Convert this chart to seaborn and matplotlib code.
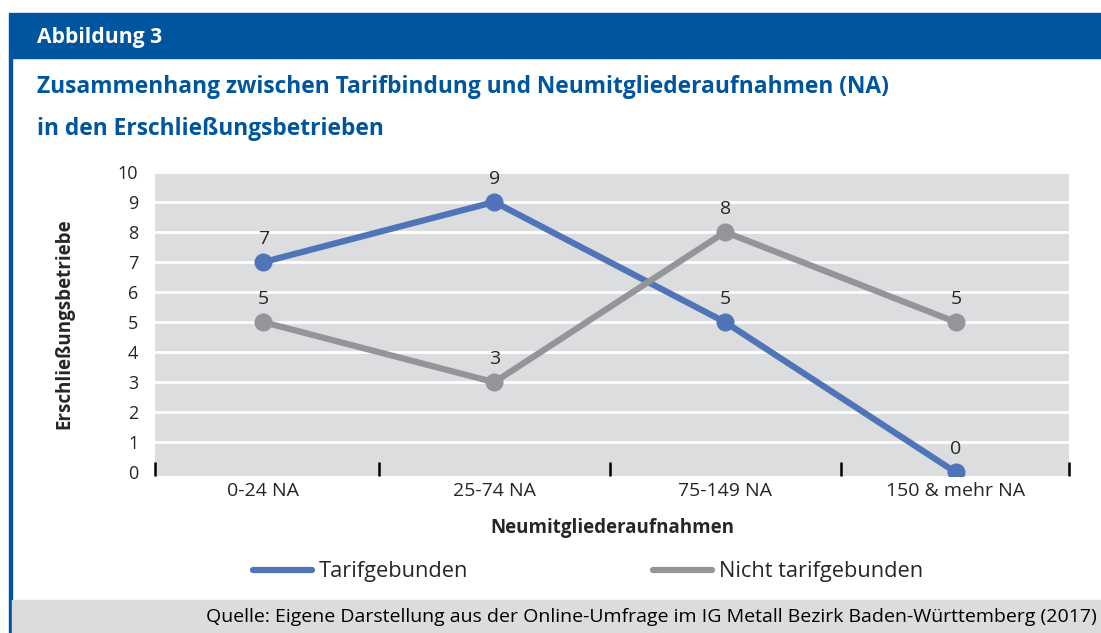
import pandas as pd
import seaborn as sns
import matplotlib.pyplot as plt
from matplotlib.lines import Line2D
from matplotlib.patches import Rectangle

sns.set_theme(style='white')
plt.rcParams['font.family'] = ['Open Sans', 'DejaVu Sans']

# data
categories = ['0-24 NA', '25-74 NA', '75-149 NA', '150 & mehr NA']
tarif = [7, 9, 5, 0]
nicht_tarif = [5, 3, 8, 5]
series_names = ['Tarifgebunden', 'Nicht tarifgebunden']

blue = '#4f75b8'
grey = '#939598'
dark_blue = '#00569e'

df = pd.DataFrame({
    'Kategorie': categories * 2,
    'Wert': tarif + nicht_tarif,
    'Serie': [series_names[0]] * 4 + [series_names[1]] * 4,
})

fig = plt.figure(figsize=(11.01, 6.33), dpi=100)

# header bar, left border, footer
fig.patches.append(Rectangle((9 / 1101, 1 - 58 / 633), 1, 45 / 633, transform=fig.transFigure,
                             color=dark_blue, zorder=0))
fig.patches.append(Rectangle((9 / 1101, 0), 3 / 1101, 1 - 58 / 633, transform=fig.transFigure,
                             color=dark_blue, zorder=0))
fig.patches.append(Rectangle((12 / 1101, 0), 1, 33 / 633, transform=fig.transFigure,
                             color='#dcdcdd', zorder=0))

fig.text(37 / 1101, 1 - 38 / 633, 'Abbildung 3', color='white', fontsize=15.2,
         fontweight='bold', va='center', ha='left')
fig.text(37 / 1101, 1 - 87 / 633, 'Zusammenhang zwischen Tarifbindung und Neumitgliederaufnahmen (NA)',
         color=dark_blue, fontsize=16.4, fontweight='bold', va='center', ha='left')
fig.text(37 / 1101, 1 - 129 / 633, 'in den Erschließungsbetrieben',
         color=dark_blue, fontsize=16.4, fontweight='bold', va='center', ha='left')
fig.text(1097 / 1101, 1 - 617 / 633,
         'Quelle: Eigene Darstellung aus der Online-Umfrage im IG Metall Bezirk Baden-Württemberg (2017)',
         color='black', fontsize=14, va='center', ha='right')

ax = fig.add_axes([155 / 1101, 1 - 476 / 633, 914 / 1101, 305 / 633])
ax.set_facecolor('#dcdddf')

sns.lineplot(data=df, x='Kategorie', y='Wert', hue='Serie', palette=[blue, grey],
             marker='o', markersize=13, markeredgewidth=0, linewidth=4.5,
             sort=False, legend=False, ax=ax)

for i, v in enumerate(tarif):
    ax.annotate(str(v), (i, v), xytext=(0, 16.5), textcoords='offset points',
                ha='center', va='center', fontsize=14)
for i, v in enumerate(nicht_tarif):
    ax.annotate(str(v), (i, v), xytext=(0, 16.5), textcoords='offset points',
                ha='center', va='center', fontsize=14)

ax.set_xlim(-0.47, 3.49)
ax.set_ylim(-0.12, 10.03)
ax.set_yticks(range(0, 11))
ax.yaxis.grid(True, color='white', linewidth=2)
ax.set_axisbelow(True)
ax.get_ygridlines()[0].set_visible(False)
for s in ax.spines.values():
    s.set_visible(False)

ax.set_xticks(range(4))
ax.set_xticklabels(categories, fontsize=14)
ax.set_xticks([-0.47, 0.5, 1.5, 2.5, 3.49], minor=True)
ax.tick_params(axis='x', which='major', length=0, pad=4)
ax.tick_params(axis='x', which='minor', bottom=True, direction='in', length=10, width=1.8,
               color='black')
ax.tick_params(axis='y', length=0, pad=12, labelsize=13)

ax.set_xlabel('Neumitgliederaufnahmen', fontsize=13.5, fontweight='bold', labelpad=13)
ax.set_ylabel('Erschließungsbetriebe', fontsize=13.5, fontweight='bold', labelpad=31)

handles = [Line2D([], [], color=blue, linewidth=4.5), Line2D([], [], color=grey, linewidth=4.5)]
fig.legend(handles, series_names, loc='center left', bbox_to_anchor=(253 / 1101, 1 - 572 / 633),
           ncol=2, frameon=False, fontsize=15.7, handlelength=2.7, handletextpad=0.3,
           columnspacing=8.5, borderpad=0, borderaxespad=0)

fig.savefig('out.png', dpi=100)
